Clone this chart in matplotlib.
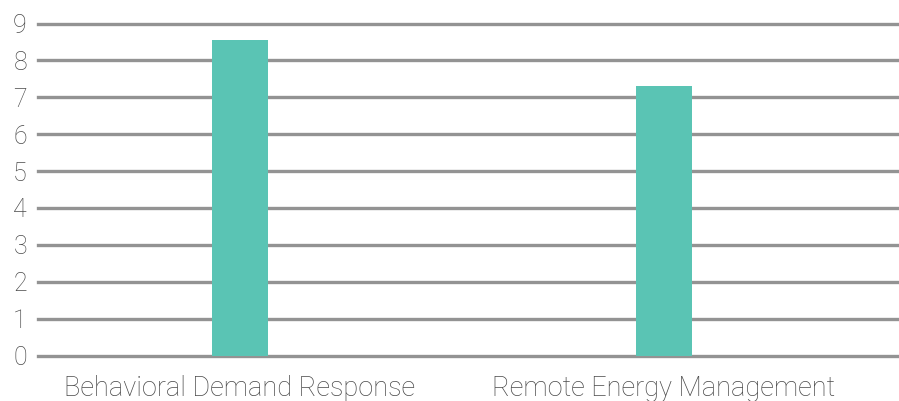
import matplotlib.pyplot as plt
import numpy as np

categories = ["Behavioral Demand Response", "Remote Energy Management"]
values = [8.55, 7.30]
yticks = [0, 1, 2, 3, 4, 5, 6, 7, 8, 9]

plt.rcParams['font.family'] = ['Roboto', 'DejaVu Sans']
plt.rcParams['font.weight'] = 'light'

fig = plt.figure(figsize=(8.99, 4.01), dpi=100)
ax = fig.add_axes([38/899, 45.5/401, 861/899, 332/401])

x = np.arange(len(categories))
ax.bar(x, values, width=0.132, color='#5ac4b4', zorder=3)

for t in yticks:
    ax.axhline(t, color='#939393', lw=2.4, zorder=1, clip_on=False)

ax.set_xlim(-0.476, 1.554)
ax.set_ylim(0, 9)
ax.set_yticks(yticks)
ax.set_xticks(x)
ax.set_xticklabels(categories)
ax.tick_params(length=0, labelsize=18, labelcolor='#4a4a4a')
ax.tick_params(axis='y', pad=8)
ax.tick_params(axis='x', pad=14, labelsize=19.5)
for s in ax.spines.values():
    s.set_visible(False)

fig.savefig('out.png', dpi=100)
